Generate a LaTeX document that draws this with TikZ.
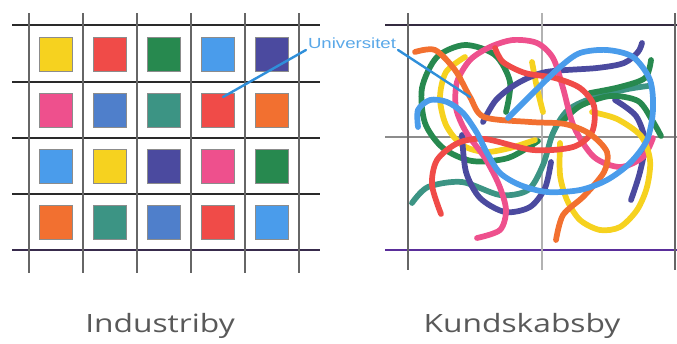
\documentclass[tikz,border=0pt]{standalone}
\usepackage{fontspec}
\newfontfamily\labelfont{Open Sans}
\newfontfamily\unifont{Liberation Sans}
\usepackage{xcolor}
\usetikzlibrary{positioning}

\definecolor{cYellow}{HTML}{F6D21F}
\definecolor{cRed}{HTML}{F04B48}
\definecolor{cGreen}{HTML}{27894F}
\definecolor{cSky}{HTML}{4A9CEB}
\definecolor{cIndigo}{HTML}{4B4A9F}
\definecolor{cPink}{HTML}{EE508D}
\definecolor{cBlue}{HTML}{4F7FCB}
\definecolor{cTeal}{HTML}{3C9484}
\definecolor{cOrange}{HTML}{F27030}
\definecolor{cPtr}{HTML}{2F8FDA}
\definecolor{cUni}{HTML}{5AA8E8}
\definecolor{cRule}{HTML}{2A2A2A}
\definecolor{cPurple}{HTML}{5A2E9A}

\begin{document}
\begin{tikzpicture}[
  x=0.75pt, y=-0.75pt,
  sq/.style={draw=black!45, line width=0.4pt, minimum width=24.75pt, minimum height=25.5pt, inner sep=0pt},
  hl/.style={draw=cRule, line width=1.5pt},
  vl/.style={draw=black!60, line width=1.5pt},
  strand/.style={line width=4.3pt, line cap=round, line join=round},
  ptr/.style={cPtr, line width=1.8pt, line cap=round},
  citycap/.style={font=\labelfont\fontsize{18.9}{22}\selectfont, text=black!65, xscale=1.26, anchor=base},
]
\useasboundingbox (0,0) rectangle (677,343);

% Left grid - Industriby
\draw[hl] (12,25) -- (320,25);
\draw[hl] (12,82) -- (320,82);
\draw[hl] (12,138) -- (320,138);
\draw[hl] (12,194) -- (320,194);
\draw[hl, draw=cRule!70!cPurple] (12,250) -- (320,250);
\draw[vl] (29,13) -- (29,273);
\draw[vl] (83,13) -- (83,273);
\draw[vl] (137,13) -- (137,273);
\draw[vl] (191,13) -- (191,273);
\draw[vl] (245,13) -- (245,273);
\draw[vl] (299,13) -- (299,273);

% Row 1
\node[sq, fill=cYellow] (s11) at (56,54) {};
\node[sq, fill=cRed] (s12) at (110,54) {};
\node[sq, fill=cGreen] (s13) at (164,54) {};
\node[sq, fill=cSky] (s14) at (218,54) {};
\node[sq, fill=cIndigo] (s15) at (272,54) {};
% Row 2
\node[sq, fill=cPink] (s21) at (56,110) {};
\node[sq, fill=cBlue] (s22) at (110,110) {};
\node[sq, fill=cTeal] (s23) at (164,110) {};
\node[sq, fill=cRed] (s24) at (218,110) {};
\node[sq, fill=cOrange] (s25) at (272,110) {};
% Row 3
\node[sq, fill=cSky] (s31) at (56,166) {};
\node[sq, fill=cYellow] (s32) at (110,166) {};
\node[sq, fill=cIndigo] (s33) at (164,166) {};
\node[sq, fill=cPink] (s34) at (218,166) {};
\node[sq, fill=cGreen] (s35) at (272,166) {};
% Row 4
\node[sq, fill=cOrange] (s41) at (56,222) {};
\node[sq, fill=cTeal] (s42) at (110,222) {};
\node[sq, fill=cBlue] (s43) at (164,222) {};
\node[sq, fill=cRed] (s44) at (218,222) {};
\node[sq, fill=cSky] (s45) at (272,222) {};

% Right grid - Kundskabsby
\draw[hl, draw=cRule!80!cPurple] (385,25) -- (677,25);
\draw[draw=black!45, line width=1pt] (385,137) -- (677,137);
\draw[hl, draw=cPurple] (385,250) -- (677,250);
\draw[vl] (408,13) -- (408,270);
\draw[draw=black!30, line width=1pt] (542,13) -- (542,270);
\draw[vl] (675,13) -- (675,270);

% Tangle
\draw[strand, cGreen] plot[smooth] coordinates {(506,112) (510,82) (495,55) (465,45) (437,57) (422,88) (425,123) (443,148) (472,161) (508,158) (538,141)};
\draw[strand, cYellow] plot[smooth] coordinates {(535,140) (510,148) (485,152) (462,145) (446,125) (440,98) (446,72) (465,57)};
\draw[strand, cYellow] plot[smooth] coordinates {(532,62) (537,88) (543,112)};
\draw[strand, cTeal] plot[smooth] coordinates {(412,203) (428,187) (462,182) (500,195) (528,190) (543,165) (553,133) (568,110) (595,97) (628,89) (648,86)};
\draw[strand, cIndigo] plot[smooth] coordinates {(483,122) (496,100) (518,83) (546,72) (597,68) (624,63) (638,52) (642,43)};
\draw[strand, cIndigo] plot[smooth] coordinates {(462,135) (466,172) (480,198) (505,212) (530,207) (545,188) (551,162)};
\draw[strand, cIndigo] plot[smooth] coordinates {(615,100) (636,116) (645,142) (640,172) (631,200)};
\draw[strand, cGreen] plot[smooth] coordinates {(562,122) (580,106) (610,96) (638,101) (652,120) (661,136)};
\draw[strand, cGreen] plot[smooth] coordinates {(590,93) (620,87) (645,78) (651,60)};
\draw[strand, cPink] plot[smooth] coordinates {(477,238) (500,230) (506,210) (499,185) (485,158) (466,132) (456,108) (457,82) (470,60) (490,47) (513,40) (537,43) (553,58) (563,88) (574,127) (594,157) (620,167) (643,157) (653,138)};
\draw[strand, cYellow] plot[smooth] coordinates {(560,143) (560,175) (567,200) (580,220) (600,230) (620,227) (637,210) (647,187) (650,160) (641,136) (617,119) (592,112)};
\draw[strand, cRed] plot[smooth] coordinates {(441,214) (432,185) (437,160) (458,143) (485,139) (533,150) (573,147) (592,132) (594,106) (580,88) (555,78) (525,73) (503,62) (495,48)};
\draw[strand, cOrange] plot[smooth] coordinates {(415,52) (435,50) (455,70) (470,97) (484,117) (530,122) (565,124) (590,134) (607,152) (604,172) (584,196) (563,215) (556,240)};
\draw[strand, cSky] plot[smooth] coordinates {(418,127) (418,110) (430,100) (447,102) (463,113) (477,133) (487,153) (500,173) (520,185) (547,192) (580,190) (607,180) (630,163) (647,140) (653,110) (650,80) (633,57) (607,50) (580,53) (560,67) (533,93) (508,118)};

% Universitet pointer
\node[font=\unifont\fontsize{11}{13}\selectfont, text=cUni, xscale=1.27, inner sep=1pt] (uni) at (352,43) {Universitet};
\coordinate (uniL) at (223,97);
\coordinate (uniR) at (470,97);
\draw[ptr] (uni.south west) -- (uniL);
\draw[ptr] (uni.south east) -- (uniR);

% Captions
\node[citycap] (ind) at (160,332) {Industriby};
\node[citycap] (kun) at (522,332) {Kundskabsby};
\end{tikzpicture}
\end{document}
